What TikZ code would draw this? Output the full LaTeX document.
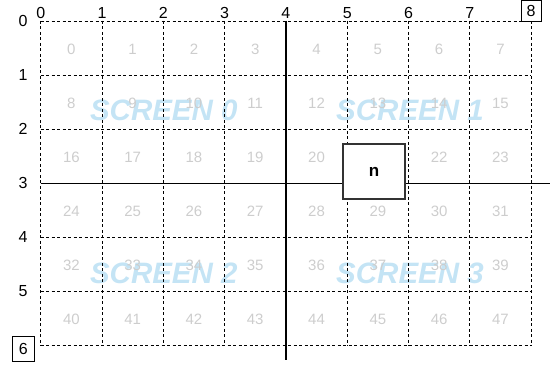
\documentclass[tikz,border=0pt]{standalone}
\usepackage{fontspec}
\setmainfont{Liberation Sans}
\definecolor{screenblue}{RGB}{196,228,245}
\definecolor{cellgray}{RGB}{205,205,205}
\begin{document}
\begin{tikzpicture}[x=1pt,y=-1pt,
  gridline/.style={draw=black,line width=0.8pt,dash pattern=on 3pt off 2.5pt},
  axisline/.style={draw=black,line width=1.3pt},
  cellnum/.style={text=cellgray,font=\fontsize{15}{15}\selectfont,inner sep=0pt},
  screenlbl/.style={text=screenblue,font=\fontsize{29.5}{30}\selectfont\bfseries\itshape,inner sep=0pt},
  axislbl/.style={text=black,font=\fontsize{16}{16}\selectfont,inner sep=0pt},
  boxlbl/.style={draw=black,line width=1pt,fill=white,font=\fontsize{16}{16}\selectfont,inner sep=0pt,minimum width=20pt,minimum height=21pt},
  nbox/.style={draw=black!80,line width=1.3pt,fill=white,inner sep=0pt,minimum width=62pt,minimum height=55pt,font=\fontsize{17}{17}\selectfont\bfseries}]
\useasboundingbox (0,0) rectangle (550,366);
\def\xo{40.7}\def\dx{61.3}\def\yo{21}\def\dy{54.1}
% screen labels
\node[screenlbl] (s0) at ({\xo+2*\dx+0.5},{\yo+1.5*\dy+8.5}) {SCREEN 0};
\node[screenlbl] (s1) at ({\xo+6*\dx+1.5},{\yo+1.5*\dy+8.5}) {SCREEN 1};
\node[screenlbl] (s2) at ({\xo+2*\dx+0.5},{\yo+4.5*\dy+8.5}) {SCREEN 2};
\node[screenlbl] (s3) at ({\xo+6*\dx+1.5},{\yo+4.5*\dy+8.5}) {SCREEN 3};
% grid
\foreach \i in {0,...,8} \draw[gridline] ({\xo+\i*\dx},\yo) -- ({\xo+\i*\dx},{\yo+6*\dy});
\foreach \j in {0,...,6} \draw[gridline] (\xo,{\yo+\j*\dy}) -- ({\xo+8*\dx},{\yo+\j*\dy});
% cell numbers
\foreach \j in {0,...,5} \foreach \i in {0,...,7} {
  \pgfmathtruncatemacro{\k}{\j*8+\i}
  \node[cellnum] (c\k) at ({\xo+(\i+0.5)*\dx},{\yo+(\j+0.5)*\dy+1}) {\k};
}
% axis lines
\coordinate (vt) at ({\xo+4*\dx},\yo);
\coordinate (vb) at ({\xo+4*\dx},360);
\coordinate (hl) at (\xo,{\yo+3*\dy});
\coordinate (hr) at (550,{\yo+3*\dy});
\draw[axisline] (vt) -- (vb);
\draw[axisline] (hl) -- (hr);
% n box
\node[nbox] (n) at (374,171.6) {n};
% column labels
\foreach \i in {0,...,7} \node[axislbl] (col\i) at ({\xo+\i*\dx},13) {\i};
\node[boxlbl] (col8) at ({\xo+8*\dx},11) {8};
% row labels
\foreach \j in {0,...,5} \node[axislbl] (row\j) at (23,{\yo+\j*\dy}) {\j};
\node[boxlbl,minimum width=22pt,minimum height=25pt] (row6) at (23.3,349) {6};
\end{tikzpicture}
\end{document}
